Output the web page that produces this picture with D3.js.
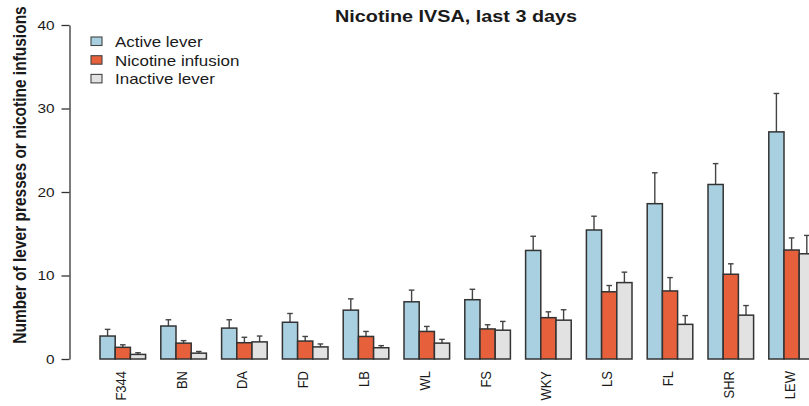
<!DOCTYPE html>
<html>
<head>
<meta charset="utf-8">
<script src="https://cdn.jsdelivr.net/npm/d3@7"></script>
<style>
  html, body { margin: 0; padding: 0; background: #fff; }
  svg { display: block; }
  text { font-family: "Liberation Sans", Arial, Helvetica, sans-serif; fill: #1a1a1a; }
</style>
</head>
<body>
<svg id="chart" width="809" height="406"></svg>
<script>
// ---- data ----
const strains = ["F344", "BN", "DA", "FD", "LB", "WL", "FS", "WKY", "LS", "FL", "SHR", "LEW"];
const seriesNames = ["Active lever", "Nicotine infusion", "Inactive lever"];
const activeMean   = [2.75, 3.95, 3.7, 4.4, 5.85, 6.85, 7.1, 13.0, 15.45, 18.6, 20.9, 27.2];
const activeErr    = [0.8, 0.75, 1.0, 1.05, 1.35, 1.4, 1.25, 1.7, 1.65, 3.7, 2.5, 4.6];
const nicotineMean = [1.4, 1.9, 1.95, 2.15, 2.7, 3.3, 3.6, 4.95, 8.05, 8.15, 10.15, 13.05];
const nicotineErr  = [0.3, 0.3, 0.65, 0.55, 0.6, 0.6, 0.5, 0.7, 0.75, 1.6, 1.25, 1.45];
const inactiveMean = [0.55, 0.7, 2.05, 1.45, 1.35, 1.9, 3.45, 4.65, 9.15, 4.15, 5.25, 12.6];
const inactiveErr  = [0.2, 0.2, 0.7, 0.35, 0.25, 0.45, 1.05, 1.25, 1.25, 1.05, 1.15, 2.2];
const yTicks = [0, 10, 20, 30, 40];
const colors = ["#a9d0e1", "#e6603b", "#e2e2e2"];

const means = [activeMean, nicotineMean, inactiveMean];
const errs = [activeErr, nicotineErr, inactiveErr];

const svg = d3.select("#chart");
const SX = 1.14; // horizontal glyph stretch seen in the reference

// ---- scales ----
const y = d3.scaleLinear().domain([0, 40]).range([359, 25]);
const x0 = d3.scaleBand().domain(strains).range([100, 814.4]).paddingInner(0.25).paddingOuter(0);
const x1 = d3.scaleBand().domain(d3.range(3)).range([0, x0.bandwidth()]).padding(0);

// ---- bars ----
const rows = [];
strains.forEach((s, i) => {
  for (let k = 0; k < 3; k++) rows.push({ s, k, v: means[k][i], e: errs[k][i] });
});

const g = svg.append("g");
// error bars (upper whisker only)
g.selectAll("line.whisker").data(rows).join("line")
  .attr("class", "whisker")
  .attr("x1", d => x0(d.s) + x1(d.k) + x1.bandwidth() / 2)
  .attr("x2", d => x0(d.s) + x1(d.k) + x1.bandwidth() / 2)
  .attr("y1", d => y(d.v))
  .attr("y2", d => y(d.v + d.e))
  .attr("stroke", "#444").attr("stroke-width", 1.4);
g.selectAll("line.cap").data(rows).join("line")
  .attr("class", "cap")
  .attr("x1", d => x0(d.s) + x1(d.k) + x1.bandwidth() / 2 - 2.8)
  .attr("x2", d => x0(d.s) + x1(d.k) + x1.bandwidth() / 2 + 2.8)
  .attr("y1", d => y(d.v + d.e))
  .attr("y2", d => y(d.v + d.e))
  .attr("stroke", "#444").attr("stroke-width", 1.4);

g.selectAll("rect.bar").data(rows).join("rect")
  .attr("class", "bar")
  .attr("x", d => x0(d.s) + x1(d.k))
  .attr("y", d => y(d.v))
  .attr("width", x1.bandwidth())
  .attr("height", d => y(0) - y(d.v))
  .attr("fill", d => colors[d.k])
  .attr("stroke", "#333")
  .attr("stroke-width", 1.5);

// ---- y axis ----
const yAxis = svg.append("g")
  .attr("transform", "translate(69.5,0)")
  .call(d3.axisLeft(y).tickValues(yTicks).tickSize(8).tickSizeOuter(0));
yAxis.select(".domain").attr("stroke", "#333").attr("stroke-width", 1.3);
yAxis.selectAll(".tick line").attr("stroke", "#333").attr("stroke-width", 1.3);
yAxis.selectAll(".tick text")
  .attr("x", null)
  .attr("transform", `translate(-15,0) scale(${SX},1)`)
  .attr("font-size", 13.5)
  .attr("font-family", "Liberation Sans, Arial, sans-serif")
  .attr("fill", "#1a1a1a");

// ---- category labels (rotated) ----
svg.append("g").selectAll("text").data(strains).join("text")
  .attr("transform", d => `translate(${x0(d) + x0.bandwidth() / 2 + 3},371) scale(${SX},1) rotate(-90)`)
  .attr("text-anchor", "end")
  .attr("font-size", 13)
  .text(d => d);

// ---- y axis label ----
svg.append("text")
  .attr("transform", `translate(26,175) scale(${SX},1) rotate(-90)`)
  .attr("text-anchor", "middle")
  .attr("font-weight", "bold")
  .attr("font-size", 15.5)
  .text("Number of lever presses or nicotine infusions");

// ---- title ----
svg.append("text")
  .attr("transform", `translate(456,22) scale(1.2,1)`)
  .attr("text-anchor", "middle")
  .attr("font-weight", "bold")
  .attr("font-size", 16.5)
  .text("Nicotine IVSA, last 3 days");

// ---- legend ----
const leg = svg.append("g").selectAll("g").data(seriesNames).join("g")
  .attr("transform", (d, i) => `translate(91,${41.5 + i * 18.7})`);
leg.append("rect")
  .attr("x", 0).attr("y", -4.5).attr("width", 11).attr("height", 8.5)
  .attr("fill", (d, i) => colors[i])
  .attr("stroke", "#444").attr("stroke-width", 1.1);
leg.append("text")
  .attr("transform", `translate(24,5.3) scale(1.13,1)`)
  .attr("font-size", 15)
  .text(d => d);
</script>
</body>
</html>
